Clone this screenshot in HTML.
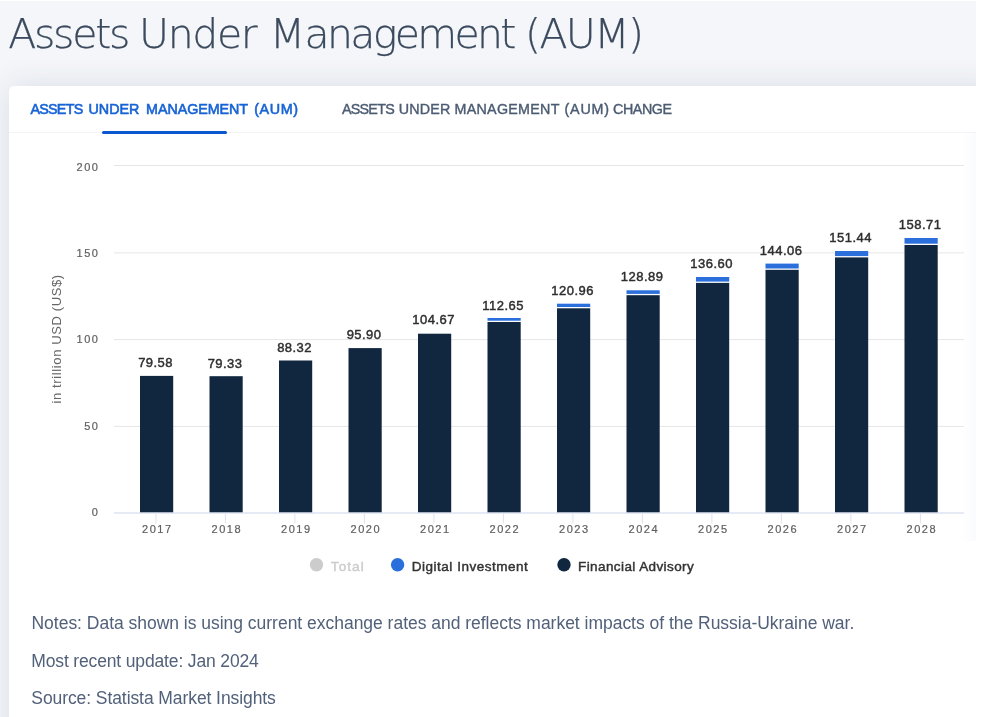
<!DOCTYPE html>
<html lang="en"><head><meta charset="utf-8"><title>Assets Under Management (AUM)</title>
<style>
html,body{margin:0;padding:0;}
h1{margin:0;padding:0;font-size:inherit;font-weight:normal;}
body{width:996px;height:717px;overflow:hidden;background:#fff;font-family:"Liberation Sans",sans-serif;position:relative;}
#bg{position:absolute;left:0;top:1px;width:976px;height:716px;background:#f4f6f9;overflow:hidden;}
#card{position:absolute;left:9px;top:85px;width:1000px;height:700px;background:#fff;border-radius:5px 0 0 0;box-shadow:0 0 30px rgba(50,65,90,0.13);}
#cardr{position:absolute;left:976px;top:86px;width:20px;height:632px;background:#fff;}
span,div{white-space:nowrap;}
.tt{position:absolute;font-size:41px;line-height:48px;font-weight:200;color:#3b4a5e;-webkit-text-stroke:0.25px #3b4a5e;font-family:"DejaVu Sans Light","DejaVu Sans","Liberation Sans",sans-serif;}
.tb1{position:absolute;font-size:14.3px;line-height:18px;color:#1763d6;-webkit-text-stroke:0.6px #1763d6;}
.tb2{position:absolute;font-size:14.3px;line-height:18px;color:#4b5b72;-webkit-text-stroke:0.4px #4b5b72;}
#tline{position:absolute;left:9px;top:132px;width:967px;height:1px;background:#f3f4f6;}
#tul{position:absolute;left:102px;top:131.4px;width:125px;height:2.7px;border-radius:2px;background:#0b57cf;}
svg{position:absolute;left:0;top:0;}
.sl{position:absolute;width:60px;text-align:center;font-size:13px;line-height:15px;color:#2e2e2e;-webkit-text-stroke:0.45px #2e2e2e;letter-spacing:0.45px;}
.xl{position:absolute;width:60px;text-align:center;font-size:11px;line-height:14px;color:#606060;letter-spacing:1.55px;text-indent:1.5px;-webkit-text-stroke:0.2px #606060;}
.yl{position:absolute;left:38.5px;width:61px;text-align:right;font-size:11px;line-height:12px;color:#606060;letter-spacing:1.55px;-webkit-text-stroke:0.2px #606060;}
#yt{position:absolute;left:0;top:0;font-size:13px;line-height:14px;color:#666;transform-origin:0 0;transform:translate(49.5px,403.5px) rotate(-90deg);letter-spacing:0.62px;}
.lg{position:absolute;font-size:13.5px;line-height:16px;color:#333;-webkit-text-stroke:0.45px #333;}
.nt{position:absolute;font-size:17.5px;line-height:20px;color:#52617a;}
#fade{position:absolute;left:962px;top:133px;width:14px;height:408px;background:linear-gradient(to right,rgba(240,243,250,0),rgba(240,243,250,0.35));}
</style></head><body>
<div id="bg"><div id="card"></div></div>
<div id="cardr"></div>
<div id="tline"></div>
<div id="tul"></div>
<svg width="996" height="717" viewBox="0 0 996 717">
<rect x="114" y="165.0" width="850" height="1" fill="#e6e6e6"/>
<rect x="114" y="252.4" width="850" height="1" fill="#e6e6e6"/>
<rect x="114" y="339.1" width="850" height="1" fill="#e6e6e6"/>
<rect x="114" y="425.9" width="850" height="1" fill="#e6e6e6"/>
<rect x="140.00" y="375.90" width="33.2" height="136.60" fill="#10273f"/>
<rect x="209.50" y="376.20" width="33.2" height="136.30" fill="#10273f"/>
<rect x="279.00" y="360.50" width="33.2" height="152.00" fill="#10273f"/>
<rect x="348.50" y="348.10" width="33.2" height="164.40" fill="#10273f"/>
<rect x="418.00" y="333.70" width="33.2" height="178.80" fill="#10273f"/>
<rect x="487.50" y="318.00" width="33.2" height="2.70" fill="#2a6fdb"/>
<rect x="487.50" y="322.00" width="33.2" height="190.50" fill="#10273f"/>
<rect x="557.00" y="303.70" width="33.2" height="3.30" fill="#2a6fdb"/>
<rect x="557.00" y="308.30" width="33.2" height="204.20" fill="#10273f"/>
<rect x="626.50" y="290.30" width="33.2" height="3.60" fill="#2a6fdb"/>
<rect x="626.50" y="295.20" width="33.2" height="217.30" fill="#10273f"/>
<rect x="696.00" y="277.00" width="33.2" height="4.60" fill="#2a6fdb"/>
<rect x="696.00" y="282.90" width="33.2" height="229.60" fill="#10273f"/>
<rect x="765.50" y="263.60" width="33.2" height="4.90" fill="#2a6fdb"/>
<rect x="765.50" y="269.80" width="33.2" height="242.70" fill="#10273f"/>
<rect x="835.00" y="251.00" width="33.2" height="5.10" fill="#2a6fdb"/>
<rect x="835.00" y="257.40" width="33.2" height="255.10" fill="#10273f"/>
<rect x="904.50" y="238.00" width="33.2" height="5.70" fill="#2a6fdb"/>
<rect x="904.50" y="245.00" width="33.2" height="267.50" fill="#10273f"/>
<rect x="114" y="512.5" width="850" height="1" fill="#ccd6eb"/>
<rect x="155.40" y="513.5" width="1" height="10" fill="#dde3f0"/>
<rect x="224.90" y="513.5" width="1" height="10" fill="#dde3f0"/>
<rect x="294.40" y="513.5" width="1" height="10" fill="#dde3f0"/>
<rect x="363.90" y="513.5" width="1" height="10" fill="#dde3f0"/>
<rect x="433.40" y="513.5" width="1" height="10" fill="#dde3f0"/>
<rect x="502.90" y="513.5" width="1" height="10" fill="#dde3f0"/>
<rect x="572.40" y="513.5" width="1" height="10" fill="#dde3f0"/>
<rect x="641.90" y="513.5" width="1" height="10" fill="#dde3f0"/>
<rect x="711.40" y="513.5" width="1" height="10" fill="#dde3f0"/>
<rect x="780.90" y="513.5" width="1" height="10" fill="#dde3f0"/>
<rect x="850.40" y="513.5" width="1" height="10" fill="#dde3f0"/>
<rect x="919.90" y="513.5" width="1" height="10" fill="#dde3f0"/>
<circle cx="316.5" cy="564.8" r="6.7" fill="#cccccc"/>
<circle cx="397.6" cy="564.8" r="6.7" fill="#2a6fdb"/>
<circle cx="564" cy="564.8" r="6.7" fill="#10273f"/>
</svg>
<div id="fade"></div>
<h1><span class="tt" style="left:8.2px;top:10px;letter-spacing:-2.26px;">Assets</span>
<span class="tt" style="left:139.1px;top:10px;letter-spacing:-1.37px;">Under</span>
<span class="tt" style="left:269.7px;top:10px;letter-spacing:-0.6px">M<span style="letter-spacing:-2.67px">anagement</span></span>
<span class="tt" style="left:525.0px;top:10px;letter-spacing:-1.62px;">(AUM)</span></h1>
<nav><div class="tab active"><span class="tb1" style="left:30.5px;top:100px;letter-spacing:-0.75px;">ASSETS</span>
<span class="tb1" style="left:88.5px;top:100px;letter-spacing:0.00px;">UNDER</span>
<span class="tb1" style="left:146.1px;top:100px;letter-spacing:-0.06px;">MANAGEMENT</span>
<span class="tb1" style="left:254.2px;top:100px;letter-spacing:0.65px;">(AUM)</span></div>
<div class="tab"><span class="tb2" style="left:342.0px;top:100px;letter-spacing:-0.75px;">ASSETS</span>
<span class="tb2" style="left:398.7px;top:100px;letter-spacing:0.20px;">UNDER</span>
<span class="tb2" style="left:454.5px;top:100px;letter-spacing:0.27px;">MANAGEMENT</span>
<span class="tb2" style="left:564.5px;top:100px;letter-spacing:0.80px;">(AUM)</span>
<span class="tb2" style="left:613.1px;top:100px;letter-spacing:-0.46px;">CHANGE</span></div></nav>
<span class="nt" style="left:31.5px;top:613px;letter-spacing:-0.02px;">Notes: Data shown is using current exchange rates and reflects market impacts of the Russia-Ukraine war.</span>
<span class="nt" style="left:31.3px;top:651.2px;letter-spacing:-0.15px;">Most recent update: Jan 2024</span>
<span class="nt" style="left:31.3px;top:687.6px;letter-spacing:-0.08px;">Source: Statista Market Insights</span>
<span class="lg" style="left:330.8px;top:558.7px;letter-spacing:1.08px;color:#ccc;-webkit-text-stroke-color:#ccc;">Total</span>
<span class="lg" style="left:411.8px;top:558.7px;letter-spacing:0.51px;">Digital Investment</span>
<span class="lg" style="left:578.0px;top:558.7px;letter-spacing:0.41px;">Financial Advisory</span>
<div class="sl" style="left:125.6px;top:355.1px">79.58</div>
<div class="sl" style="left:195.1px;top:355.6px">79.33</div>
<div class="sl" style="left:264.6px;top:339.9px">88.32</div>
<div class="sl" style="left:334.1px;top:326.7px">95.90</div>
<div class="sl" style="left:403.6px;top:311.5px">104.67</div>
<div class="sl" style="left:473.1px;top:297.6px">112.65</div>
<div class="sl" style="left:542.6px;top:283.1px">120.96</div>
<div class="sl" style="left:612.1px;top:269.3px">128.89</div>
<div class="sl" style="left:681.6px;top:255.9px">136.60</div>
<div class="sl" style="left:751.1px;top:242.9px">144.06</div>
<div class="sl" style="left:820.6px;top:230.1px">151.44</div>
<div class="sl" style="left:890.1px;top:217.4px">158.71</div>
<div class="xl" style="left:126.6px;top:522.2px">2017</div>
<div class="xl" style="left:196.1px;top:522.2px">2018</div>
<div class="xl" style="left:265.6px;top:522.2px">2019</div>
<div class="xl" style="left:335.1px;top:522.2px">2020</div>
<div class="xl" style="left:404.6px;top:522.2px">2021</div>
<div class="xl" style="left:474.1px;top:522.2px">2022</div>
<div class="xl" style="left:543.6px;top:522.2px">2023</div>
<div class="xl" style="left:613.1px;top:522.2px">2024</div>
<div class="xl" style="left:682.6px;top:522.2px">2025</div>
<div class="xl" style="left:752.1px;top:522.2px">2026</div>
<div class="xl" style="left:821.6px;top:522.2px">2027</div>
<div class="xl" style="left:891.1px;top:522.2px">2028</div>
<div class="yl" style="top:160.9px">200</div>
<div class="yl" style="top:246.6px">150</div>
<div class="yl" style="top:333.3px">100</div>
<div class="yl" style="top:419.6px">50</div>
<div class="yl" style="top:506.1px">0</div>
<div id="yt">in trillion USD (US$)</div>
</body></html>
